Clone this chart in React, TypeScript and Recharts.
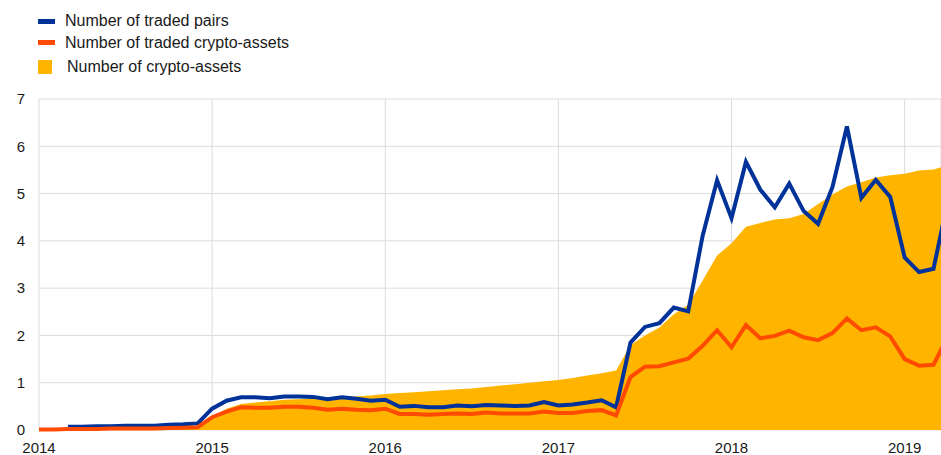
import React from "react";
import {
  Area,
  CartesianGrid,
  ComposedChart,
  Line,
  XAxis,
  YAxis,
} from "recharts";

const BLUE = "#003299";
const ORANGE = "#ff4b00";
const YELLOW = "#ffb400";
const FONT = "'Liberation Sans', Arial, sans-serif";

// monthly, Jan 2014 .. Apr 2019
const START_YEAR = 2014;

const tradedPairs: (number | null)[] = [
  null, null, 0.07, 0.07, 0.08, 0.08, 0.09, 0.09, 0.09, 0.11, 0.12, 0.14,
  0.45, 0.62, 0.69, 0.69, 0.67, 0.71, 0.71, 0.7, 0.65, 0.69, 0.66, 0.62,
  0.64, 0.49, 0.51, 0.48, 0.48, 0.52, 0.5, 0.53, 0.52, 0.51, 0.52, 0.59,
  0.52, 0.54, 0.58, 0.63, 0.48, 1.85, 2.18, 2.26, 2.59, 2.51, 4.11, 5.28,
  4.48, 5.67, 5.08, 4.71, 5.21, 4.63, 4.36, 5.14, 6.42, 4.91, 5.29, 4.93,
  3.65, 3.34, 3.41, 4.85,
];

const tradedAssets: number[] = [
  0.01, 0.01, 0.02, 0.02, 0.02, 0.03, 0.03, 0.03, 0.03, 0.04, 0.05, 0.06,
  0.27, 0.39, 0.48, 0.47, 0.47, 0.49, 0.49, 0.47, 0.43, 0.45, 0.43, 0.42,
  0.45, 0.34, 0.34, 0.32, 0.34, 0.35, 0.34, 0.37, 0.35, 0.35, 0.35, 0.39,
  0.36, 0.36, 0.4, 0.42, 0.31, 1.12, 1.34, 1.35, 1.43, 1.51, 1.78, 2.11,
  1.75, 2.22, 1.94, 1.99, 2.1, 1.96, 1.9, 2.05, 2.36, 2.11, 2.17, 1.98,
  1.5, 1.36, 1.38, 1.98,
];

const cryptoAssets: number[] = [
  0.01, 0.01, 0.02, 0.02, 0.02, 0.03, 0.03, 0.03, 0.04, 0.05, 0.06, 0.07,
  0.28, 0.45, 0.55, 0.58, 0.61, 0.64, 0.65, 0.66, 0.68, 0.7, 0.71, 0.73,
  0.76, 0.78, 0.8, 0.82, 0.84, 0.86, 0.88, 0.91, 0.94, 0.97, 1.0, 1.03,
  1.06, 1.1, 1.15, 1.2, 1.26, 1.8, 2.0, 2.17, 2.45, 2.65, 3.16, 3.69,
  3.95, 4.3, 4.38, 4.45, 4.48, 4.57, 4.78, 4.98, 5.15, 5.24, 5.34, 5.39,
  5.42, 5.49, 5.51, 5.6,
];

const yearTicks = [2014, 2015, 2016, 2017, 2018, 2019];
const valueTicks = [0, 1, 2, 3, 4, 5, 6, 7];

const legendItems = [
  { label: "Number of traded pairs", color: BLUE, kind: "line" },
  { label: "Number of traded crypto-assets", color: ORANGE, kind: "line" },
  { label: "Number of crypto-assets", color: YELLOW, kind: "box" },
];

const data = cryptoAssets.map((v, i) => ({
  t: START_YEAR + i / 12,
  assets: v,
  traded: tradedAssets[i],
  pairs: tradedPairs[i],
}));

function ChartLegend() {
  return (
    <div style={{ position: "absolute", left: 0, top: 0, fontFamily: FONT, fontSize: 16, color: "#1a1a1a" }}>
      {legendItems.map((it, i) => {
        const isBox = it.kind === "box";
        const cy = i === 0 ? 21 : i === 1 ? 42.5 : 67;
        return (
          <div key={it.label}>
            <div
              style={{
                position: "absolute",
                left: 38,
                top: isBox ? cy - 7 : cy - 2.5,
                width: isBox ? 14 : 17,
                height: isBox ? 14 : 5,
                background: it.color,
              }}
            />
            <div
              style={{
                position: "absolute",
                left: isBox ? 67 : 65,
                top: cy - 10,
                whiteSpace: "nowrap",
                lineHeight: "20px",
              }}
            >
              {it.label}
            </div>
          </div>
        );
      })}
    </div>
  );
}

export default function App() {
  return (
    <div style={{ position: "absolute", left: 0, top: 0, width: 941, height: 455, background: "#fff" }}>
      <ComposedChart
        width={941}
        height={455}
        data={data}
        margin={{ top: 99, right: 0, bottom: 0, left: 0 }}
      >
        <CartesianGrid stroke="#dcdcdc" strokeWidth={1} />
        <XAxis
          dataKey="t"
          type="number"
          domain={[2014, 2019.21]}
          ticks={yearTicks}
          allowDataOverflow
          axisLine={false}
          tickLine={false}
          tickMargin={6}
          height={25}
          interval={0}
          tick={{ fontSize: 15, fill: "#1a1a1a", fontFamily: FONT }}
        />
        <YAxis
          domain={[0, 7]}
          ticks={valueTicks}
          width={39}
          axisLine={false}
          tickLine={false}
          tickMargin={8}
          interval={0}
          tick={{ fontSize: 15, fill: "#1a1a1a", fontFamily: FONT }}
        />
        <Area
          type="linear"
          dataKey="assets"
          stroke="none"
          fill={YELLOW}
          fillOpacity={1}
          isAnimationActive={false}
        />
        <Line
          type="linear"
          dataKey="pairs"
          stroke={BLUE}
          strokeWidth={4}
          dot={false}
          activeDot={false}
          isAnimationActive={false}
        />
        <Line
          type="linear"
          dataKey="traded"
          stroke={ORANGE}
          strokeWidth={4}
          dot={false}
          activeDot={false}
          isAnimationActive={false}
        />
      </ComposedChart>
      <ChartLegend />
    </div>
  );
}
